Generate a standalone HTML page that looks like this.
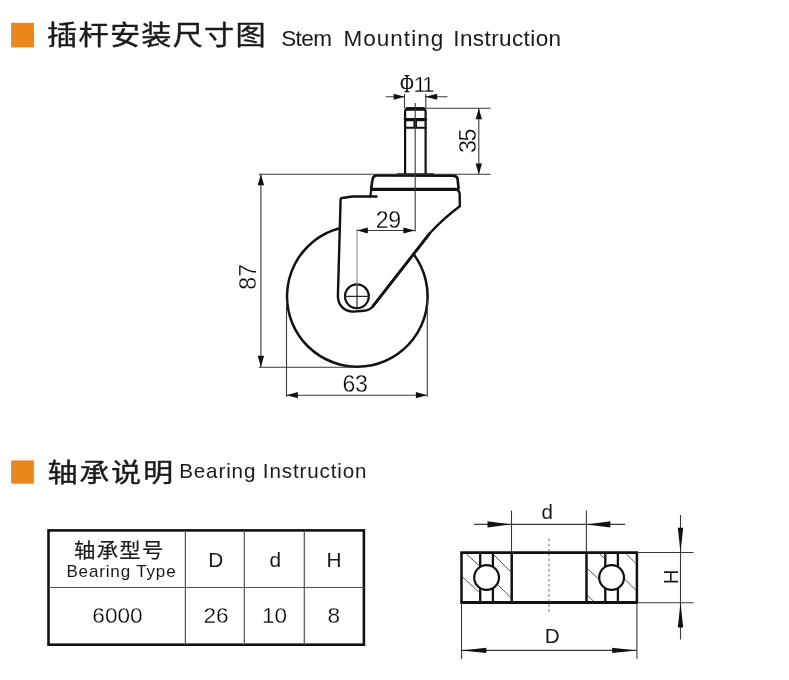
<!DOCTYPE html>
<html lang="zh">
<head>
<meta charset="utf-8">
<title>Stem Mounting Instruction</title>
<style>
html,body{margin:0;padding:0;background:#fff;}
body{width:789px;height:680px;overflow:hidden;}
svg{display:block;will-change:transform;}
text{font-family:"Liberation Sans","Noto Sans CJK SC",sans-serif;fill:#1a1a1a;}
.cjk{font-family:"Noto Sans CJK SC","Liberation Sans",sans-serif;}
.hd{stroke:#1a1a1a;stroke-width:0.42;}
.thin{stroke:#3a3a3a;stroke-width:1.1;fill:none;}
.tl{stroke:#555;stroke-width:1.2;fill:none;}
.thick{stroke:#111;fill:none;stroke-linejoin:round;stroke-linecap:round;}
.dg text{fill:#000;stroke:#fff;stroke-width:0.3;paint-order:fill stroke;}
.tb{stroke:#111;fill:none;stroke-linecap:butt;stroke-linejoin:miter;}
.arr{fill:#111;stroke:none;}
</style>
</head>
<body>
<svg width="789" height="680" viewBox="0 0 789 680">
<rect width="789" height="680" fill="#fff"/>

<!-- Heading 1 -->
<rect x="11.1" y="22.8" width="22.9" height="24.6" fill="#e9871b"/>
<text class="cjk hd" transform="translate(47.1 45) scale(1 0.89)" font-size="30.2" letter-spacing="1.2">插杆安装尺寸图</text>
<text y="46" font-size="22.5"><tspan x="281.2" letter-spacing="-0.6">Stem</tspan> <tspan x="343.4" letter-spacing="1.05">Mounting</tspan> <tspan x="453.3" letter-spacing="0.4">Instruction</tspan></text>

<!-- Caster drawing -->
<g id="caster">
  <!-- wheel -->
  <path class="thick" stroke-width="2.5" d="M339.7 228.3 A70.3 70.3 0 1 0 413.5 254.1"/>
  <!-- axle -->
  <circle class="thick" cx="356.9" cy="296.3" r="11.9" stroke-width="2.2"/>
  <!-- fork -->
  <path class="thick" stroke-width="2.4" d="M376.6 196.5 L352.2 196.5 L342 198 Q340.6 198.2 340.6 199.6 L337.9 296 C337.9 305 344 311.5 353 311.6 L364 310.7 Q369.5 310.3 372.5 306.8 L430 233 Q444 218 459.8 206.3 L459.7 194.5 Q459.7 190.5 456 189.4"/>
  <path class="thick" stroke-width="2.8" d="M373 306.2 L429.5 233.6"/>
  <path class="thick" stroke-width="2.2" d="M371.3 189 L370.4 196"/>
  <!-- plate -->
  <path class="thick" stroke-width="2.6" d="M371.3 188.5 C371.8 184 372.2 181 372.6 179.2 Q373.3 175.4 377 175.4 L452.6 175.6 Q456.5 175.6 457.5 178.3 L458.6 188.5"/>
  <path class="thick" d="M371.6 189.4 L457.5 189.4" stroke-width="3.1"/>
  <!-- stem -->
  <path class="thick" stroke-width="2.2" d="M405.1 173.6 L405.1 111.5 Q405.1 108.6 408 108.4 L422.6 108.4 Q425.6 108.6 425.6 111.5 L425.6 173.6" />
  <path class="thick" d="M407 109 L423.6 109" stroke-width="3.4"/>
  <path class="thick" d="M405.2 119.7 L425.6 119.7" stroke-width="3.2"/>
  <path class="thick" d="M405.2 127.8 L425.6 127.8" stroke-width="2.1"/>
  <path class="tb" d="M415.2 120 L415.2 127.5" stroke-width="3.6"/>
  <path class="thick" d="M398 174.7 L433 174.7" stroke-width="2.8"/>
</g>

<!-- dims caster -->
<g class="thin">
  <!-- center line -->
  <path d="M415.2 103 V231.4"/>
  <!-- phi11 -->
  <path d="M404.5 94 V108 M425.8 94 V108 M385.6 96.7 H405 M425 96.7 H447.4"/>
  <!-- 35 -->
  <path d="M426 108.3 H490.6 M258.7 174.3 H490.6 M478.8 108.5 V174.3"/>
  <!-- 87 -->
  <path d="M260.9 174.3 V367 M258.6 367.2 H353.5"/>
  <!-- 29 -->
  <path d="M357 229 V285" stroke="#8a8a8a"/><path d="M357 230.5 H415.2"/>
  <!-- 63 -->
  <path d="M286.5 300 V396.8 M427.3 300 V396.8 M286.5 395.2 H427.3"/>
  <!-- axle cross -->
  <path d="M345 296.3 H368.8 M357 284.4 V308.2" stroke="#2a2a2a" stroke-width="1.2"/>
</g>
<g class="arr">
  <path d="M404.8 96.7 l-11.2 -3 v6z"/>
  <path d="M425.3 96.7 l11.8 -3 v6z"/>
  <path d="M478.8 108.5 l-3.2 10.8 h6.4z"/>
  <path d="M478.8 174.3 l-3.2 -10.8 h6.4z"/>
  <path d="M260.9 174.3 l-3.2 11 h6.4z"/>
  <path d="M260.9 367 l-3.2 -11.3 h6.4z"/>
  <path d="M357.2 230.5 l10.6 -3 v6z"/>
  <path d="M415 230.5 l-11.6 -3 v6z"/>
  <path d="M286.6 395.2 l11.3 -3.1 v6.2z"/>
  <path d="M427.2 395.2 l-11.3 -3.1 v6.2z"/>
</g>
<text x="400.2" y="91.5" font-size="24.5" style="font-family:'Liberation Serif','DejaVu Serif',serif;fill:#111;stroke:#111;stroke-width:0.25" textLength="13.4" lengthAdjust="spacingAndGlyphs">Φ</text>
<g class="dg">
<text x="413.4" y="91.5" font-size="22.6" letter-spacing="-2.2">11</text>
<text x="388.3" y="228.1" font-size="23.1" letter-spacing="-0.4" text-anchor="middle">29</text>
<text x="355" y="391.6" font-size="23.1" letter-spacing="-0.4" text-anchor="middle">63</text>
<text transform="translate(255.9 277) rotate(-90)" font-size="23.1" letter-spacing="-0.2" text-anchor="middle">87</text>
<text transform="translate(476.1 141.4) rotate(-90)" font-size="23.1" letter-spacing="-1.2" text-anchor="middle">35</text>
</g>

<!-- Heading 2 -->
<rect x="11.1" y="460.4" width="22.8" height="23.3" fill="#e9871b"/>
<text class="cjk hd" transform="translate(47.5 482.3) scale(1 0.872)" font-size="30.2" letter-spacing="1.6">轴承说明</text>
<text x="179.2" y="477.6" font-size="20.6" letter-spacing="0.87">Bearing Instruction</text>

<!-- Table -->
<rect x="48.5" y="530.4" width="315.4" height="114.3" fill="none" stroke="#111" stroke-width="2.6"/>
<path class="tl" d="M48.5 587.5 H364 M185.4 530.4 V644.7 M244.3 530.4 V644.7 M304.3 530.4 V644.7"/>
<text class="cjk" transform="translate(74 558.2) scale(1 0.95)" font-size="21.4" letter-spacing="1.3" stroke="#1a1a1a" stroke-width="0.2">轴承型号</text>
<text x="66.4" y="576.6" font-size="17" letter-spacing="0.85">Bearing Type</text>
<text x="215.8" y="567" font-size="20.8" text-anchor="middle">D</text>
<text x="275.4" y="567" font-size="20.8" text-anchor="middle">d</text>
<text x="334.1" y="567" font-size="20.8" text-anchor="middle">H</text>
<g class="dg">
<text x="117.5" y="622.9" font-size="22.6" text-anchor="middle">6000</text>
<text x="216" y="622.9" font-size="22.6" text-anchor="middle">26</text>
<text x="274.6" y="622.9" font-size="22.6" text-anchor="middle">10</text>
<text x="333.9" y="622.9" font-size="22.6" text-anchor="middle">8</text>
</g>

<!-- Bearing drawing -->
<g id="bearing">
  <g stroke="#444" stroke-width="0.9" fill="none">
    <path d="M466.5 554.1 L479.1 565.6 M462.2 576.6 L479.1 592.3"/>
    <path d="M494 555 L510.7 571.8 M497.1 584.2 L510.7 597.4"/>
    <path d="M599.6 554.1 L604.1 557.9 M587.7 568.9 L598.6 579 M587.7 595.7 L594.3 601.9"/>
    <path d="M626.4 554.1 L635.7 563.2 M624.9 579.4 L635.7 590"/>
  </g>
  <path class="tb" d="M460.3 552.6 H638.1 M460.3 602.5 H638.1" stroke-width="2.8"/>
  <path class="tb" d="M461.5 552.6 V602.5 M511.7 552.6 V601.2 M586.5 552.6 V601.2 M636.9 552.6 V602.5" stroke-width="2.5"/>
  <path class="tb" d="M480.2 552.6 V567 M492.9 552.6 V567 M480.2 588 V602.5 M492.9 588 V602.5" stroke-width="2.3"/>
  <path class="tb" d="M605.3 552.6 V567 M617.9 552.6 V567 M605.3 588 V602.5 M617.9 588 V602.5" stroke-width="2.3"/>
  <circle class="tb" cx="486.6" cy="577.5" r="12.4" stroke-width="2.2"/>
  <circle class="tb" cx="611.6" cy="577.5" r="12.4" stroke-width="2.2"/>
</g>
<g class="thin">
  <path d="M511.5 510.6 V552 M586.4 510.6 V552 M474 524.4 H625"/>
  <path d="M461.5 603 V659 M636.9 603 V659 M461.5 650.4 H636.9"/>
  <path d="M637 552.5 H693.5 M637 602.7 H693.5 M680.5 515 V639.5"/>
  <path d="M549 538.6 V612.5" stroke="#777" stroke-dasharray="2.5 2.55"/>
</g>
<g class="arr">
  <path d="M511.5 524.4 l-24 -3.2 v6.4z"/>
  <path d="M586.4 524.4 l24 -3.2 v6.4z"/>
  <path d="M461.5 650.4 l24.8 -2.6 v5.2z"/>
  <path d="M636.9 650.4 l-24.8 -2.6 v5.2z"/>
  <path d="M680.5 552.3 l-2.7 -24.6 h5.4z"/>
  <path d="M680.5 602.6 l-2.7 24.8 h5.4z"/>
</g>
<text x="547.2" y="518.5" font-size="20.5" text-anchor="middle">d</text>
<text x="552.2" y="642.6" font-size="20.7" text-anchor="middle">D</text>
<text transform="translate(677.8 576.8) rotate(-90)" font-size="20.4" text-anchor="middle">H</text>
</svg>
</body>
</html>
